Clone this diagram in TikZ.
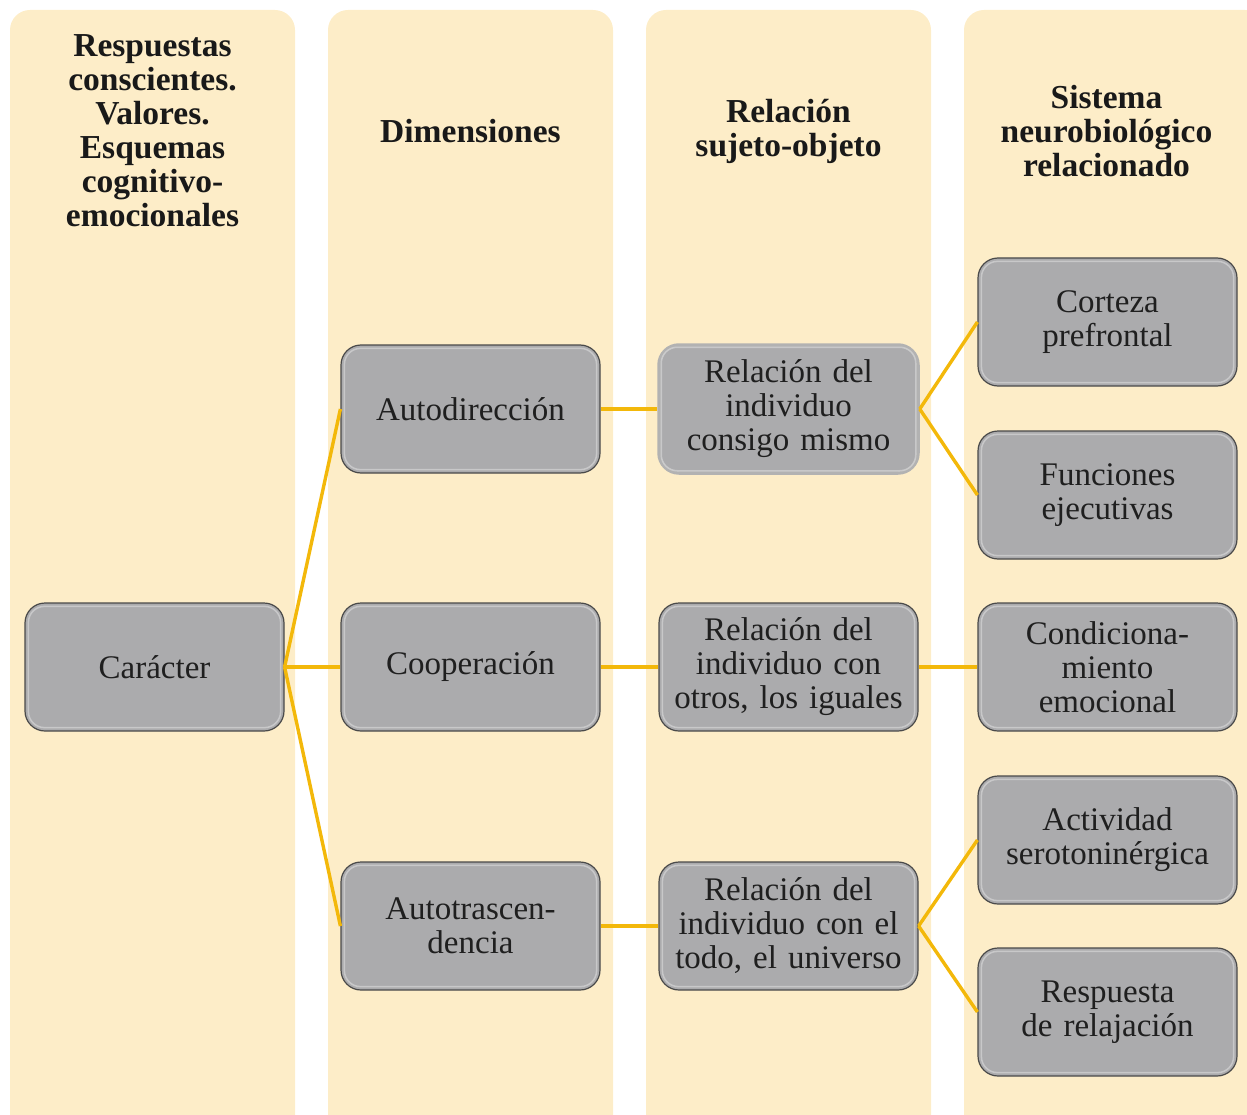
\documentclass[tikz,border=0pt]{standalone}
\usepackage{fontspec}
\setmainfont{Liberation Serif}
\begin{document}
\definecolor{colbg}{HTML}{FDEDC8}
\definecolor{boxfill}{HTML}{ABABAD}
\definecolor{boxedge}{HTML}{4A4A4A}
\definecolor{linkcol}{HTML}{F3B80A}
\begin{tikzpicture}[x=1pt,y=-1pt,
  column/.style={fill=colbg, draw=none, rounded corners=20pt},
  header/.style={align=center, font=\fontsize{33.5}{34}\selectfont\bfseries, text=black!90},
  item/.style={draw=boxedge, line width=1.2pt, fill=boxfill, rounded corners=20pt,
    minimum width=259pt, minimum height=128pt, text width=252pt, align=center,
    inner sep=0pt, font=\fontsize{33}{34}\selectfont, text=black!88},
  glow/.style={draw=black!30, line width=3.5pt},
  link/.style={draw=linkcol, line width=3.4pt}]
\useasboundingbox (0,0) rectangle (1247,1115);
\begin{scope}
\clip (0,0) rectangle (1247,1115);
% cream column panels
\fill[column] (10,10) rectangle (295,1135);
\fill[column] (328,10) rectangle (613,1135);
\fill[column] (646,10) rectangle (931,1135);
\fill[column] (964,10) rectangle (1265,1135);
\end{scope}

% column headers
\node[header] (h1) at (152.5,131) {Respuestas\\conscientes.\\Valores.\\Esquemas\\cognitivo-\\emocionales};
\node[header] (h2) at (470.5,131) {Dimensiones};
\node[header] (h3) at (788.5,131) {Relación\\sujeto-objeto};
\node[header] (h4) at (1106.5,131) {Sistema\\neurobiológico\\relacionado};

% boxes
\node[item] (car) at (154.5,667) {Carácter};
\node[item] (dir) at (470.5,409) {Autodirección};
\node[item] (coo) at (470.5,667) {Cooperación};
\node[item] (tra) at (470.5,926) {Autotrascen-\\dencia};
\node[item, glow] (rme) at (788.5,409) {Relación del\\individuo\\consigo mismo};
\node[item] (rig) at (788.5,667) {Relación del\\individuo con\\otros, los iguales};
\node[item] (run) at (788.5,926) {Relación del\\individuo con el\\todo, el universo};
\node[item] (cor) at (1107.5,322) {Corteza\\prefrontal};
\node[item] (fun) at (1107.5,495) {Funciones\\ejecutivas};
\node[item] (con) at (1107.5,667) {Condiciona-\\miento\\emocional};
\node[item] (act) at (1107.5,840) {Actividad\\serotoninérgica};
\node[item] (res) at (1107.5,1012) {Respuesta\\de relajación};

% soft inner highlight on each box
\foreach \n in {car,dir,coo,tra,rme,rig,run,cor,fun,con,act,res}{
  \draw[white, opacity=0.35, line width=1.5pt, rounded corners=16pt]
    ([shift={(4pt,-4pt)}]\n.north west) rectangle ([shift={(-4pt,4pt)}]\n.south east);
}

% connectors
\draw[link] (car.east) -- (dir.west);
\draw[link] (car.east) -- (coo.west);
\draw[link] (car.east) -- (tra.west);
\draw[link] (dir.east) -- (rme.west);
\draw[link] (coo.east) -- (rig.west);
\draw[link] (tra.east) -- (run.west);
\draw[link] (rme.east) -- (cor.west);
\draw[link] (rme.east) -- (fun.west);
\draw[link] (rig.east) -- (con.west);
\draw[link] (run.east) -- (act.west);
\draw[link] (run.east) -- (res.west);
\end{tikzpicture}
\end{document}
